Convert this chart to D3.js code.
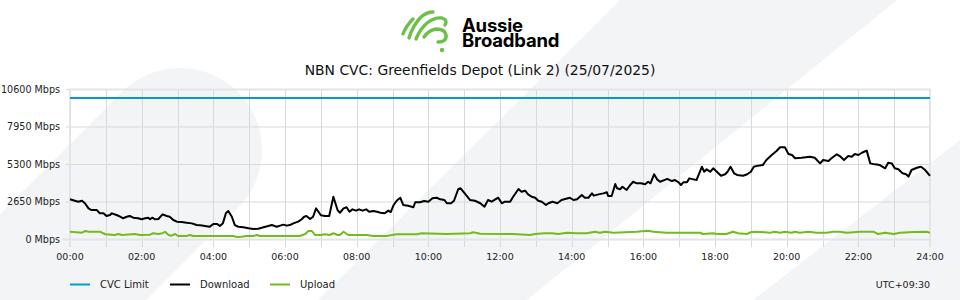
<!DOCTYPE html>
<html><head><meta charset="utf-8">
<script src="https://cdn.jsdelivr.net/npm/d3@7"></script>
<style>html,body{margin:0;padding:0;background:#fff;}svg{display:block;}</style>
</head><body>
<svg id="chart" width="960" height="300"></svg>
<script>
// ---- data ----
const title = "NBN CVC: Greenfields Depot (Link 2) (25/07/2025)";
const timezoneLabel = "UTC+09:30";
const brandLines = ["Aussie", "Broadband"];
const yTicks = [0, 2650, 5300, 7950, 10600];
const xTickHours = [0,2,4,6,8,10,12,14,16,18,20,22,24];
const seriesNames = ["CVC Limit", "Download", "Upload"];
const cvcLimitMinutes = [0, 1440];
const cvcLimitMbps = [10000, 10000];
const downloadMinutes = [0,8,14,20,25,31,36,45,50,56,61,67,70,78,84,89,95,100,106,114,120,126,131,134,138,142,148,155,162,167,173,179,187,195,204,212,218,226,234,240,246,251,256,261,265,271,276,282,290,299,307,315,324,332,338,346,352,357,363,368,374,382,388,392,396,402,407,412,416,420,427,434,441,448,452,458,463,468,473,479,484,490,496,501,508,514,520,527,533,537,542,547,553,558,566,575,578,586,593,600,607,614,620,627,631,638,643,650,654,661,670,678,687,694,700,706,712,717,723,728,737,742,751,756,762,767,773,779,784,790,797,801,808,816,823,829,837,843,849,857,862,868,874,877,885,893,899,901,907,913,916,921,925,932,938,943,949,956,963,968,972,978,983,988,995,1000,1008,1013,1019,1023,1027,1033,1037,1044,1049,1058,1062,1066,1072,1077,1083,1090,1097,1101,1106,1112,1117,1127,1134,1140,1145,1152,1160,1166,1175,1183,1189,1197,1203,1209,1214,1225,1239,1247,1256,1261,1270,1275,1284,1289,1296,1303,1309,1314,1320,1326,1334,1340,1348,1356,1365,1370,1376,1381,1387,1394,1400,1404,1409,1418,1425,1432,1440];
const downloadMbps = [2840,2740,2670,2740,2560,2200,2080,2080,1850,1850,1660,1730,1850,1730,1610,1500,1610,1660,1540,1500,1430,1500,1540,1430,1540,1430,1450,1780,1660,1610,1380,1260,1240,1190,1140,1020,1000,950,900,1100,1100,950,1140,1850,2010,1610,1020,900,860,790,740,760,860,950,1020,900,980,1050,980,1020,1140,1260,1430,1610,1660,1450,1610,2200,1960,1710,1660,1660,3020,2080,1890,2200,2280,1960,2130,2040,2130,2040,2130,1960,2010,1960,1890,1850,2040,1940,2440,2740,2950,2440,2390,2280,2630,2630,2720,2670,2910,2950,2840,2790,2560,2560,2740,3550,3620,3260,2790,2740,2560,2320,2790,2670,2840,2950,2560,2670,2670,3020,3570,3380,3450,3190,3020,2950,2740,2670,2440,2560,2670,2560,2790,2860,2950,2790,2840,3140,2950,2950,3260,3100,3190,3260,3340,3070,3070,3920,3620,3550,3730,3500,3850,4080,3970,3970,3900,4080,3970,4610,4250,4080,4200,4280,4130,4200,4040,3850,4040,4040,4320,4250,4200,5140,4790,4960,4790,5030,4790,4510,4610,4790,5140,4680,4560,4510,4610,4790,5140,5220,5260,5620,5970,6250,6520,6520,6040,5970,5740,5780,5850,5780,5380,5620,5550,5740,6020,5900,5620,5900,5850,6040,5970,6130,6280,5380,5310,5260,5030,5430,5380,5030,4960,4680,4610,4440,4910,5070,5140,4910,4490];
const uploadMinutes = [0,11,20,26,31,50,59,75,81,87,103,109,117,134,139,148,155,159,165,170,176,181,195,201,206,273,280,287,296,307,313,318,385,394,399,405,410,419,427,435,441,448,452,458,466,497,508,530,539,547,581,589,631,670,675,687,742,770,779,795,807,818,832,848,865,879,887,896,910,949,968,977,999,1055,1060,1077,1083,1099,1110,1119,1133,1141,1150,1172,1180,1189,1197,1208,1214,1222,1236,1250,1267,1278,1289,1300,1323,1345,1353,1365,1379,1390,1412,1434,1440];
const uploadMbps = [550,510,480,600,550,550,370,320,390,320,370,390,320,340,440,390,440,550,320,270,390,250,250,320,250,250,180,200,250,250,320,250,250,390,600,600,320,320,370,320,440,320,320,550,320,320,250,250,320,370,370,440,390,440,510,400,390,320,390,440,440,390,480,440,440,550,480,550,480,550,620,550,480,480,390,440,390,390,550,440,390,530,550,480,550,480,550,480,550,480,550,480,480,550,550,480,550,550,390,480,390,480,530,550,480];

// ---- layout ----
const W = 960, H = 300;
const m = {left: 70, right: 30, top: 89.5, bottom: 60.5};
const svg = d3.select("#chart");
const AX = "DejaVu Sans, sans-serif";

// background decoration
svg.append("rect").attr("width", W).attr("height", H).attr("fill", "#ffffff");
const bg = svg.append("g").attr("fill", "#f3f4f6");
bg.append("path").attr("d", "M-90,304 L122,92 A82,82 0 0 1 238,208 L26,420 Z");
bg.append("path").attr("d", "M620,0 L897,0 L527,300 L318,300 Z");
bg.append("path").attr("d", "M960,140 L960,300 L753,300 Z");

// logo
const logo = svg.append("g").attr("fill", "none").attr("stroke", "#6cc04a")
  .attr("stroke-width", 3.4).attr("stroke-linecap", "round").attr("stroke-linejoin", "round");
logo.append("path").attr("d", "M403,34 Q406,26 413,19");
logo.append("path").attr("d", "M409,38 Q413,25 421,17 Q427,12 433,12");
logo.append("path").attr("d", "M416,39 Q420,29 427,23 Q435,17 442,18 Q448,20 445,25");
logo.append("path").attr("d", "M424,37 Q429,30 436,29 Q445,29 446,35 Q447,42 438,42");
svg.append("circle").attr("cx", 442).attr("cy", 50).attr("r", 2.2).attr("fill", "#6cc04a");
const brand = svg.append("text").attr("font-family", "Inter, sans-serif").attr("font-weight", 700)
  .attr("font-size", 18.5).attr("letter-spacing", -0.2).attr("fill", "#000");
brand.selectAll("tspan").data(brandLines).join("tspan")
  .attr("x", 462).attr("y", (d, i) => 32 + i * 15).text(d => d);

// title
svg.append("text").attr("x", 480).attr("y", 75).attr("text-anchor", "middle")
  .attr("font-family", AX).attr("font-size", 13.9).attr("fill", "#111").text(title);

// scales
const x = d3.scaleLinear().domain([0, 1440]).range([m.left, W - m.right]);
const y = d3.scaleLinear().domain([0, 10600]).range([239.5, 89.5]);

// grid
const grid = svg.append("g");
const hours = d3.range(0, 25);
grid.selectAll("line.v").data(hours).join("line")
  .attr("x1", h => Math.round(x(h*60)) + 0.5).attr("x2", h => Math.round(x(h*60)) + 0.5)
  .attr("y1", m.top).attr("y2", 247)
  .attr("stroke", "#d9d9d9").attr("stroke-width", 1);
grid.selectAll("line.h").data(yTicks).join("line")
  .attr("x1", 66).attr("x2", W - m.right)
  .attr("y1", d => y(d)).attr("y2", d => y(d))
  .attr("stroke", "#d9d9d9").attr("stroke-width", 1);
// frame
const fr = svg.append("g").attr("stroke", "#e4e4e4").attr("stroke-width", 2).attr("fill", "none");
fr.append("line").attr("x1", 69).attr("x2", 931).attr("y1", 89.5).attr("y2", 89.5);
fr.append("line").attr("x1", 62).attr("x2", 931).attr("y1", 239.5).attr("y2", 239.5);
fr.append("line").attr("x1", 70).attr("x2", 70).attr("y1", 89).attr("y2", 247);
fr.append("line").attr("x1", 930).attr("x2", 930).attr("y1", 89).attr("y2", 247);

// y axis labels
svg.append("g").selectAll("text").data(yTicks).join("text")
  .attr("x", 60).attr("y", d => y(d)).attr("dy", "0.35em").attr("text-anchor", "end")
  .attr("font-family", AX).attr("font-size", 9.6).attr("fill", "#222")
  .text(d => d + " Mbps");
// x axis labels
svg.append("g").selectAll("text").data(xTickHours).join("text")
  .attr("x", h => x(h*60)).attr("y", 260).attr("text-anchor", "middle")
  .attr("font-family", AX).attr("font-size", 9.5).attr("fill", "#222")
  .text(h => String(h).padStart(2, "0") + ":00");

// lines
const line = d3.line().x(d => x(d[0])).y(d => y(d[1]));
const colors = ["#0a96d6", "#000000", "#72bb1e"];
const series = [
  d3.zip(cvcLimitMinutes, cvcLimitMbps),
  d3.zip(downloadMinutes, downloadMbps),
  d3.zip(uploadMinutes, uploadMbps)
];
[2, 1, 0].forEach(i => {
  svg.append("path").datum(series[i]).attr("d", line)
    .attr("fill", "none").attr("stroke", colors[i]).attr("stroke-width", 2)
    .attr("stroke-linejoin", "round");
});

// legend
const legX = [70, 170, 270];
const leg = svg.append("g");
seriesNames.forEach((n, i) => {
  leg.append("line").attr("x1", legX[i]).attr("x2", legX[i] + 20).attr("y1", 284.5).attr("y2", 284.5)
    .attr("stroke", colors[i]).attr("stroke-width", 2);
  leg.append("text").attr("x", legX[i] + 30).attr("y", 288)
    .attr("font-family", AX).attr("font-size", 10).attr("fill", "#222").text(n);
});
svg.append("text").attr("x", 930).attr("y", 288).attr("text-anchor", "end")
  .attr("font-family", AX).attr("font-size", 9.5).attr("fill", "#222").text(timezoneLabel);
</script>
</body></html>
